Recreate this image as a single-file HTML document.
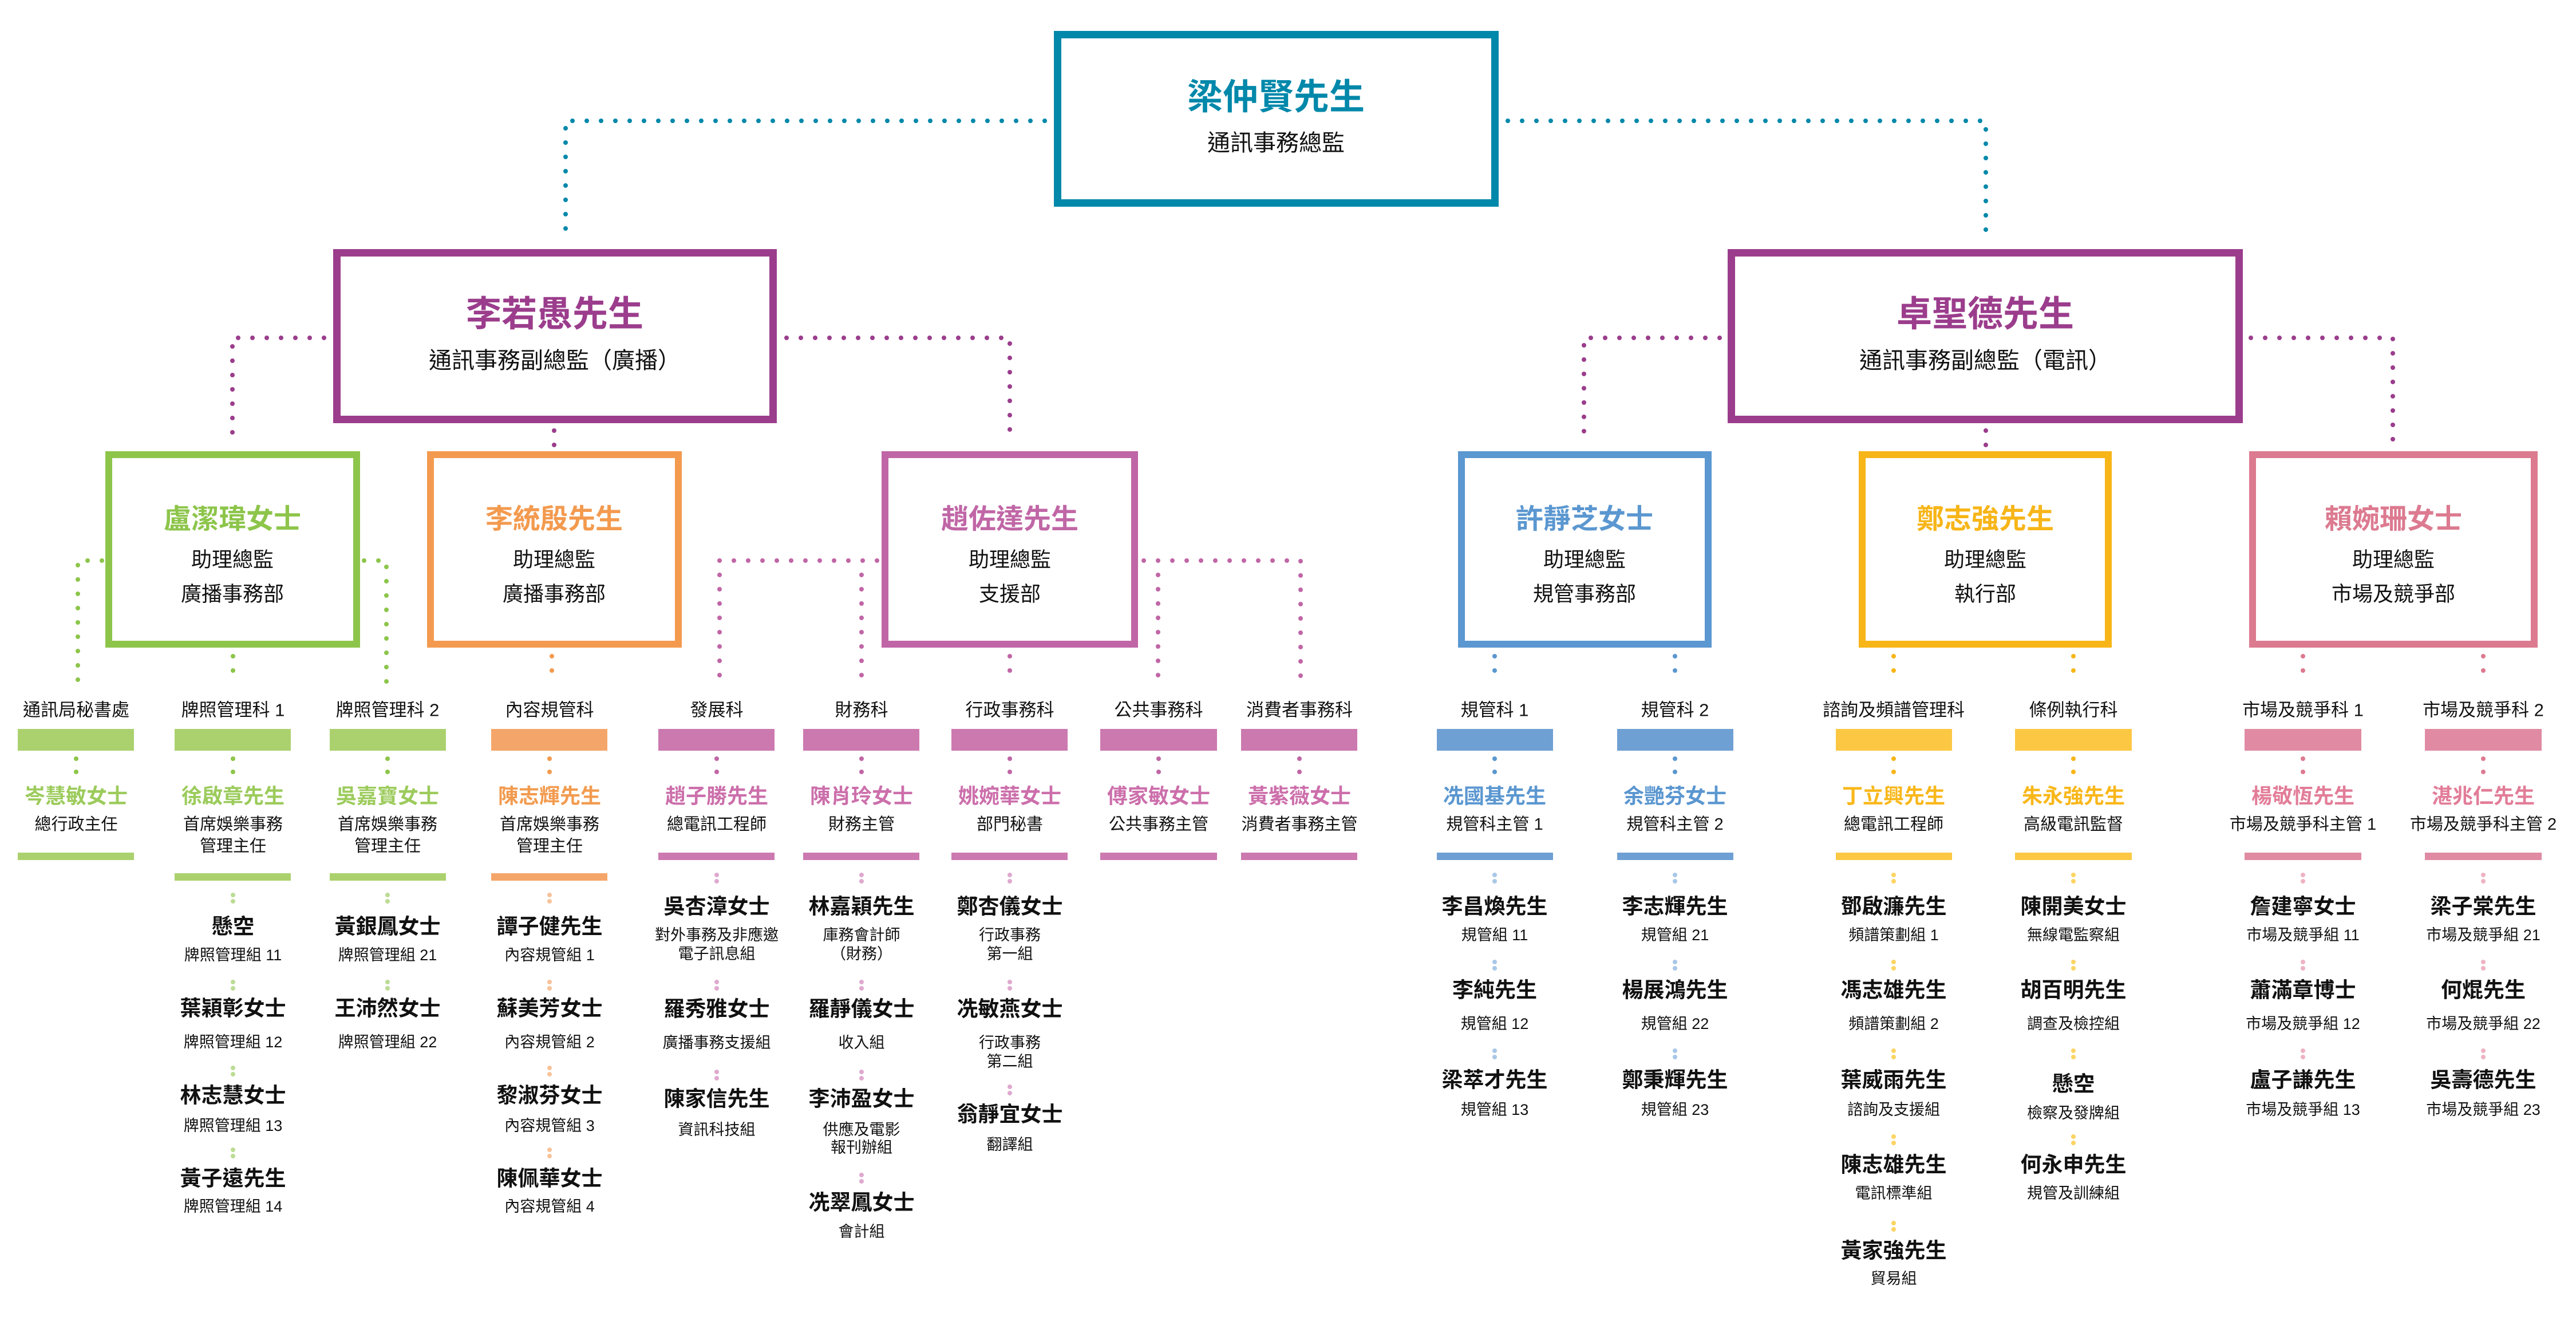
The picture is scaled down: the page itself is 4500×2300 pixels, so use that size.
<!DOCTYPE html>
<html><head><meta charset="utf-8"><style>
html,body{margin:0;padding:0;background:#fff;}
svg{display:block;}
text{font-family:"Liberation Sans","Noto Sans CJK TC",sans-serif;text-anchor:middle;dominant-baseline:central;}
.b{font-weight:bold;}
</style></head><body>
<svg width="4500" height="2300" viewBox="0 0 4500 2300" xmlns="http://www.w3.org/2000/svg">
<g fill="none" stroke-linecap="round" stroke-width="8" stroke-dasharray="0 25">
<path d="M1825 211 H988 V422" stroke="#0088aa"/>
<path d="M2634 211 H3469 V422" stroke="#0088aa"/>
<path d="M566 590 H406 V775" stroke="#9b3d8c"/>
<path d="M1374 590 H1764 V775" stroke="#9b3d8c"/>
<path d="M968 752 V785" stroke="#9b3d8c"/>
<path d="M3004 590 H2767 V775" stroke="#9b3d8c"/>
<path d="M3932 590 H4180 V775" stroke="#9b3d8c"/>
<path d="M3469 752 V785" stroke="#9b3d8c"/>
<path d="M178 979 H136 V1196" stroke="#8dc54b"/>
<path d="M636 979 H675 V1196" stroke="#8dc54b"/>
<path d="M407 1146 V1196" stroke="#8dc54b"/>
<path d="M964 1146 V1196" stroke="#f39a4f"/>
<path d="M1532 979 H1257 V1196" stroke="#c066a6"/>
<path d="M1505 1004 V1196" stroke="#c066a6"/>
<path d="M1998 979 H2272 V1196" stroke="#c066a6"/>
<path d="M2023 1004 V1196" stroke="#c066a6"/>
<path d="M1764 1146 V1196" stroke="#c066a6"/>
<path d="M2611 1146 V1196" stroke="#5b97d0"/>
<path d="M2926 1146 V1196" stroke="#5b97d0"/>
<path d="M3308 1146 V1196" stroke="#f7b518"/>
<path d="M3622 1146 V1196" stroke="#f7b518"/>
<path d="M4023 1146 V1196" stroke="#dc7a90"/>
<path d="M4338 1146 V1196" stroke="#dc7a90"/>
</g>
<g fill="none" stroke-width="13">
<rect x="1847.5" y="60.5" width="764" height="294" stroke="#0088aa"/>
<rect x="588.5" y="441.5" width="762" height="291" stroke="#9b3d8c"/>
<rect x="3024.5" y="441.5" width="887" height="291" stroke="#9b3d8c"/>
<rect x="190" y="794" width="433" height="331" stroke="#8dc54b" stroke-width="12"/>
<rect x="752" y="794" width="433" height="331" stroke="#f39a4f" stroke-width="12"/>
<rect x="1546" y="794" width="436" height="331" stroke="#c066a6" stroke-width="12"/>
<rect x="2553" y="794" width="431" height="331" stroke="#5b97d0" stroke-width="12"/>
<rect x="3253" y="794" width="430" height="331" stroke="#f7b518" stroke-width="12"/>
<rect x="3935" y="794" width="492" height="331" stroke="#dc7a90" stroke-width="12"/>
</g>
<text x="2229" y="170" font-size="62" class="b" fill="#0088aa">梁仲賢先生</text>
<text x="2229" y="250" font-size="40" fill="#111">通訊事務總監</text>
<text x="969" y="549" font-size="62" class="b" fill="#9b3d8c">李若愚先生</text>
<text x="969" y="630" font-size="40" fill="#111">通訊事務副總監（廣播）</text>
<text x="3468" y="549" font-size="62" class="b" fill="#9b3d8c">卓聖德先生</text>
<text x="3468" y="630" font-size="40" fill="#111">通訊事務副總監（電訊）</text>
<g font-size="36" fill="#111">
<text x="406" y="907" font-size="48" class="b" fill="#8dc54b">盧潔瑋女士</text><text x="406" y="977">助理總監</text><text x="406" y="1037">廣播事務部</text>
<text x="968" y="907" font-size="48" class="b" fill="#f39a4f">李統殷先生</text><text x="968" y="977">助理總監</text><text x="968" y="1037">廣播事務部</text>
<text x="1764" y="907" font-size="48" class="b" fill="#c066a6">趙佐達先生</text><text x="1764" y="977">助理總監</text><text x="1764" y="1037">支援部</text>
<text x="2768" y="907" font-size="48" class="b" fill="#5b97d0">許靜芝女士</text><text x="2768" y="977">助理總監</text><text x="2768" y="1037">規管事務部</text>
<text x="3468" y="907" font-size="48" class="b" fill="#f7b518">鄭志強先生</text><text x="3468" y="977">助理總監</text><text x="3468" y="1037">執行部</text>
<text x="4181" y="907" font-size="48" class="b" fill="#dc7a90">賴婉珊女士</text><text x="4181" y="977">助理總監</text><text x="4181" y="1037">市場及競爭部</text>
</g>

<!-- section bars -->
<g>
<rect x="31" y="1273" width="203" height="38" fill="#abd16e"/><rect x="31" y="1489" width="203" height="13" fill="#abd16e"/>
<rect x="305" y="1273" width="203" height="38" fill="#abd16e"/><rect x="305" y="1525" width="203" height="13" fill="#abd16e"/>
<rect x="576" y="1273" width="203" height="38" fill="#abd16e"/><rect x="576" y="1525" width="203" height="13" fill="#abd16e"/>
<rect x="858" y="1273" width="203" height="38" fill="#f4a66a"/><rect x="858" y="1525" width="203" height="13" fill="#f4a66a"/>
<rect x="1150" y="1273" width="203" height="38" fill="#cc79b0"/><rect x="1150" y="1489" width="203" height="13" fill="#cc79b0"/>
<rect x="1403" y="1273" width="203" height="38" fill="#cc79b0"/><rect x="1403" y="1489" width="203" height="13" fill="#cc79b0"/>
<rect x="1662" y="1273" width="203" height="38" fill="#cc79b0"/><rect x="1662" y="1489" width="203" height="13" fill="#cc79b0"/>
<rect x="1922" y="1273" width="204" height="38" fill="#cc79b0"/><rect x="1922" y="1489" width="204" height="13" fill="#cc79b0"/>
<rect x="2168" y="1273" width="203" height="38" fill="#cc79b0"/><rect x="2168" y="1489" width="203" height="13" fill="#cc79b0"/>
<rect x="2510" y="1273" width="203" height="38" fill="#6fa0d4"/><rect x="2510" y="1489" width="203" height="13" fill="#6fa0d4"/>
<rect x="2825" y="1273" width="203" height="38" fill="#6fa0d4"/><rect x="2825" y="1489" width="203" height="13" fill="#6fa0d4"/>
<rect x="3207" y="1273" width="203" height="38" fill="#fcc844"/><rect x="3207" y="1489" width="203" height="13" fill="#fcc844"/>
<rect x="3520" y="1273" width="204" height="38" fill="#fcc844"/><rect x="3520" y="1489" width="204" height="13" fill="#fcc844"/>
<rect x="3921" y="1273" width="204" height="38" fill="#e08ba3"/><rect x="3921" y="1489" width="204" height="13" fill="#e08ba3"/>
<rect x="4236" y="1273" width="204" height="38" fill="#e08ba3"/><rect x="4236" y="1489" width="204" height="13" fill="#e08ba3"/>
</g>
<!-- dots bar->name -->
<g>
<g fill="#8dc54b"><circle cx="133" cy="1325" r="4"/><circle cx="133" cy="1348" r="4"/><circle cx="407" cy="1325" r="4"/><circle cx="407" cy="1348" r="4"/><circle cx="677" cy="1325" r="4"/><circle cx="677" cy="1348" r="4"/></g>
<g fill="#f39a4f"><circle cx="960" cy="1325" r="4"/><circle cx="960" cy="1348" r="4"/></g>
<g fill="#c066a6"><circle cx="1252" cy="1325" r="4"/><circle cx="1252" cy="1348" r="4"/><circle cx="1505" cy="1325" r="4"/><circle cx="1505" cy="1348" r="4"/><circle cx="1764" cy="1325" r="4"/><circle cx="1764" cy="1348" r="4"/><circle cx="2024" cy="1325" r="4"/><circle cx="2024" cy="1348" r="4"/><circle cx="2270" cy="1325" r="4"/><circle cx="2270" cy="1348" r="4"/></g>
<g fill="#5b97d0"><circle cx="2611" cy="1325" r="4"/><circle cx="2611" cy="1348" r="4"/><circle cx="2926" cy="1325" r="4"/><circle cx="2926" cy="1348" r="4"/></g>
<g fill="#f7b518"><circle cx="3308" cy="1325" r="4"/><circle cx="3308" cy="1348" r="4"/><circle cx="3622" cy="1325" r="4"/><circle cx="3622" cy="1348" r="4"/></g>
<g fill="#dc7a90"><circle cx="4023" cy="1325" r="4"/><circle cx="4023" cy="1348" r="4"/><circle cx="4338" cy="1325" r="4"/><circle cx="4338" cy="1348" r="4"/></g>
</g>
<!-- section labels, names, titles -->
<g font-size="31" fill="#111">
<text x="133" y="1240">通訊局秘書處</text><text x="407" y="1240">牌照管理科 1</text><text x="677" y="1240">牌照管理科 2</text><text x="960" y="1240">內容規管科</text>
<text x="1252" y="1240">發展科</text><text x="1505" y="1240">財務科</text><text x="1764" y="1240">行政事務科</text><text x="2024" y="1240">公共事務科</text><text x="2270" y="1240">消費者事務科</text>
<text x="2611" y="1240">規管科 1</text><text x="2926" y="1240">規管科 2</text><text x="3308" y="1240">諮詢及頻譜管理科</text><text x="3622" y="1240">條例執行科</text><text x="4023" y="1240">市場及競爭科 1</text><text x="4338" y="1240">市場及競爭科 2</text>
</g>
<g font-size="36" class="b">
<text x="133" y="1390" fill="#9ccb5c">岑慧敏女士</text><text x="407" y="1390" fill="#9ccb5c">徐啟章先生</text><text x="677" y="1390" fill="#9ccb5c">吳嘉寶女士</text>
<text x="960" y="1390" fill="#f29b4f">陳志輝先生</text>
<text x="1252" y="1390" fill="#cc6fab">趙子勝先生</text><text x="1505" y="1390" fill="#cc6fab">陳肖玲女士</text><text x="1764" y="1390" fill="#cc6fab">姚婉華女士</text><text x="2024" y="1390" fill="#cc6fab">傅家敏女士</text><text x="2270" y="1390" fill="#cc6fab">黃紫薇女士</text>
<text x="2611" y="1390" fill="#5b97d0">冼國基先生</text><text x="2926" y="1390" fill="#5b97d0">余艷芬女士</text>
<text x="3308" y="1390" fill="#f9b71a">丁立興先生</text><text x="3622" y="1390" fill="#f9b71a">朱永強先生</text>
<text x="4023" y="1390" fill="#e27d98">楊敬恆先生</text><text x="4338" y="1390" fill="#e27d98">湛兆仁先生</text>
</g>
<g font-size="29" fill="#111">
<text x="133" y="1440">總行政主任</text>
<text x="407" y="1440">首席娛樂事務</text><text x="407" y="1478">管理主任</text>
<text x="677" y="1440">首席娛樂事務</text><text x="677" y="1478">管理主任</text>
<text x="960" y="1440">首席娛樂事務</text><text x="960" y="1478">管理主任</text>
<text x="1252" y="1440">總電訊工程師</text><text x="1505" y="1440">財務主管</text><text x="1764" y="1440">部門秘書</text><text x="2024" y="1440">公共事務主管</text><text x="2270" y="1440">消費者事務主管</text>
<text x="2611" y="1440">規管科主管 1</text><text x="2926" y="1440">規管科主管 2</text><text x="3308" y="1440">總電訊工程師</text><text x="3622" y="1440">高級電訊監督</text>
<text x="4023" y="1440">市場及競爭科主管 1</text><text x="4338" y="1440">市場及競爭科主管 2</text>
</g>

<!-- children small dots -->
<g>
<g fill="#bcdc94"><circle cx="407" cy="1563" r="4"/><circle cx="407" cy="1574" r="4"/><circle cx="407" cy="1715" r="4"/><circle cx="407" cy="1726" r="4"/><circle cx="407" cy="1865" r="4"/><circle cx="407" cy="1876" r="4"/><circle cx="407" cy="2008" r="4"/><circle cx="407" cy="2019" r="4"/>
<circle cx="677" cy="1563" r="4"/><circle cx="677" cy="1574" r="4"/><circle cx="677" cy="1715" r="4"/><circle cx="677" cy="1726" r="4"/></g>
<g fill="#f8c39b"><circle cx="960" cy="1563" r="4"/><circle cx="960" cy="1574" r="4"/><circle cx="960" cy="1715" r="4"/><circle cx="960" cy="1726" r="4"/><circle cx="960" cy="1865" r="4"/><circle cx="960" cy="1876" r="4"/><circle cx="960" cy="2008" r="4"/><circle cx="960" cy="2019" r="4"/></g>
<g fill="#dfa9cf"><circle cx="1252" cy="1528" r="4"/><circle cx="1252" cy="1539" r="4"/><circle cx="1252" cy="1715" r="4"/><circle cx="1252" cy="1726" r="4"/><circle cx="1252" cy="1872" r="4"/><circle cx="1252" cy="1883" r="4"/>
<circle cx="1505" cy="1528" r="4"/><circle cx="1505" cy="1539" r="4"/><circle cx="1505" cy="1715" r="4"/><circle cx="1505" cy="1726" r="4"/><circle cx="1505" cy="1872" r="4"/><circle cx="1505" cy="1883" r="4"/><circle cx="1505" cy="2052" r="4"/><circle cx="1505" cy="2063" r="4"/>
<circle cx="1764" cy="1528" r="4"/><circle cx="1764" cy="1539" r="4"/><circle cx="1764" cy="1715" r="4"/><circle cx="1764" cy="1726" r="4"/><circle cx="1764" cy="1898" r="4"/><circle cx="1764" cy="1909" r="4"/></g>
<g fill="#a9c8e8"><circle cx="2611" cy="1528" r="4"/><circle cx="2611" cy="1539" r="4"/><circle cx="2611" cy="1680" r="4"/><circle cx="2611" cy="1691" r="4"/><circle cx="2611" cy="1835" r="4"/><circle cx="2611" cy="1846" r="4"/>
<circle cx="2926" cy="1528" r="4"/><circle cx="2926" cy="1539" r="4"/><circle cx="2926" cy="1680" r="4"/><circle cx="2926" cy="1691" r="4"/><circle cx="2926" cy="1835" r="4"/><circle cx="2926" cy="1846" r="4"/></g>
<g fill="#fcd464"><circle cx="3308" cy="1528" r="4"/><circle cx="3308" cy="1539" r="4"/><circle cx="3308" cy="1680" r="4"/><circle cx="3308" cy="1691" r="4"/><circle cx="3308" cy="1835" r="4"/><circle cx="3308" cy="1846" r="4"/><circle cx="3308" cy="1985" r="4"/><circle cx="3308" cy="1996" r="4"/><circle cx="3308" cy="2136" r="4"/><circle cx="3308" cy="2147" r="4"/>
<circle cx="3622" cy="1528" r="4"/><circle cx="3622" cy="1539" r="4"/><circle cx="3622" cy="1680" r="4"/><circle cx="3622" cy="1691" r="4"/><circle cx="3622" cy="1835" r="4"/><circle cx="3622" cy="1846" r="4"/><circle cx="3622" cy="1985" r="4"/><circle cx="3622" cy="1996" r="4"/></g>
<g fill="#eeb3c3"><circle cx="4023" cy="1528" r="4"/><circle cx="4023" cy="1539" r="4"/><circle cx="4023" cy="1680" r="4"/><circle cx="4023" cy="1691" r="4"/><circle cx="4023" cy="1835" r="4"/><circle cx="4023" cy="1846" r="4"/>
<circle cx="4338" cy="1528" r="4"/><circle cx="4338" cy="1539" r="4"/><circle cx="4338" cy="1680" r="4"/><circle cx="4338" cy="1691" r="4"/><circle cx="4338" cy="1835" r="4"/><circle cx="4338" cy="1846" r="4"/></g>
</g>

<!-- children names -->
<g font-size="37" class="b" fill="#111">
<text x="407" y="1618">懸空</text><text x="407" y="1761">葉穎彰女士</text><text x="407" y="1913">林志慧女士</text><text x="407" y="2058">黃子遠先生</text>
<text x="677" y="1618">黃銀鳳女士</text><text x="677" y="1761">王沛然女士</text>
<text x="960" y="1618">譚子健先生</text><text x="960" y="1761">蘇美芳女士</text><text x="960" y="1913">黎淑芬女士</text><text x="960" y="2058">陳佩華女士</text>
<text x="1252" y="1583">吳杏漳女士</text><text x="1252" y="1762">羅秀雅女士</text><text x="1252" y="1919">陳家信先生</text>
<text x="1505" y="1583">林嘉穎先生</text><text x="1505" y="1762">羅靜儀女士</text><text x="1505" y="1919">李沛盈女士</text><text x="1505" y="2100">冼翠鳳女士</text>
<text x="1764" y="1583">鄭杏儀女士</text><text x="1764" y="1762">冼敏燕女士</text><text x="1764" y="1946">翁靜宜女士</text>
<text x="2611" y="1583">李昌煥先生</text><text x="2611" y="1729">李純先生</text><text x="2611" y="1886">梁萃才先生</text>
<text x="2926" y="1583">李志輝先生</text><text x="2926" y="1729">楊展鴻先生</text><text x="2926" y="1886">鄭秉輝先生</text>
<text x="3308" y="1583">鄧啟濂先生</text><text x="3308" y="1729">馮志雄先生</text><text x="3308" y="1886">葉威雨先生</text><text x="3308" y="2034">陳志雄先生</text><text x="3308" y="2184">黃家強先生</text>
<text x="3622" y="1583">陳開美女士</text><text x="3622" y="1729">胡百明先生</text><text x="3622" y="1893">懸空</text><text x="3622" y="2034">何永申先生</text>
<text x="4023" y="1583">詹建寧女士</text><text x="4023" y="1729">蕭滿章博士</text><text x="4023" y="1886">盧子謙先生</text>
<text x="4338" y="1583">梁子棠先生</text><text x="4338" y="1729">何焜先生</text><text x="4338" y="1886">吳壽德先生</text>
</g>
<g font-size="27" fill="#111">
<text x="407" y="1668">牌照管理組 11</text><text x="407" y="1820">牌照管理組 12</text><text x="407" y="1966">牌照管理組 13</text><text x="407" y="2107">牌照管理組 14</text>
<text x="677" y="1668">牌照管理組 21</text><text x="677" y="1820">牌照管理組 22</text>
<text x="960" y="1668">內容規管組 1</text><text x="960" y="1820">內容規管組 2</text><text x="960" y="1966">內容規管組 3</text><text x="960" y="2107">內容規管組 4</text>
<text x="1252" y="1633">對外事務及非應邀</text><text x="1252" y="1666">電子訊息組</text><text x="1252" y="1821">廣播事務支援組</text><text x="1252" y="1973">資訊科技組</text>
<text x="1505" y="1633">庫務會計師</text><text x="1505" y="1666">（財務）</text><text x="1505" y="1821">收入組</text><text x="1505" y="1973">供應及電影</text><text x="1505" y="2004">報刊辦組</text><text x="1505" y="2151">會計組</text>
<text x="1764" y="1633">行政事務</text><text x="1764" y="1666">第一組</text><text x="1764" y="1821">行政事務</text><text x="1764" y="1854">第二組</text><text x="1764" y="1999">翻譯組</text>
<text x="2611" y="1633">規管組 11</text><text x="2611" y="1788">規管組 12</text><text x="2611" y="1938">規管組 13</text>
<text x="2926" y="1633">規管組 21</text><text x="2926" y="1788">規管組 22</text><text x="2926" y="1938">規管組 23</text>
<text x="3308" y="1633">頻譜策劃組 1</text><text x="3308" y="1788">頻譜策劃組 2</text><text x="3308" y="1938">諮詢及支援組</text><text x="3308" y="2084">電訊標準組</text><text x="3308" y="2233">貿易組</text>
<text x="3622" y="1633">無線電監察組</text><text x="3622" y="1788">調查及檢控組</text><text x="3622" y="1944">檢察及發牌組</text><text x="3622" y="2084">規管及訓練組</text>
<text x="4023" y="1633">市場及競爭組 11</text><text x="4023" y="1788">市場及競爭組 12</text><text x="4023" y="1938">市場及競爭組 13</text>
<text x="4338" y="1633">市場及競爭組 21</text><text x="4338" y="1788">市場及競爭組 22</text><text x="4338" y="1938">市場及競爭組 23</text>
</g>
</svg>
</body></html>
